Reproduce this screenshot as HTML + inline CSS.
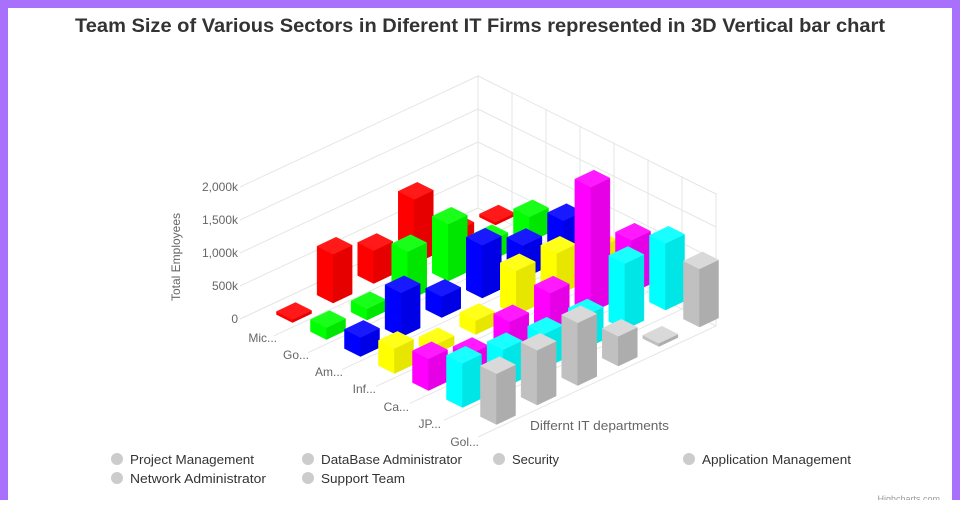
<!DOCTYPE html>
<html><head><meta charset="utf-8"><style>
html,body{margin:0;padding:0;background:#fff;}
body{width:960px;height:500px;overflow:hidden;}
svg text{font-family:"Liberation Sans",sans-serif;}
</style></head><body>
<svg id="s" width="960" height="500" xmlns="http://www.w3.org/2000/svg">
<rect x="0" y="0" width="960" height="500" fill="#a970fb"/>
<rect x="8" y="8" width="944" height="492" fill="#fff"/>
<text x="75" y="32" font-size="19" font-weight="bold" fill="#333" textLength="810" lengthAdjust="spacingAndGlyphs">Team Size of Various Sectors in Diferent IT Firms represented in 3D Vertical bar chart</text>
<g id="grid" stroke="#e6e6e6" stroke-width="1" fill="none"></g>
<g id="bars"></g>
<g font-size="12" fill="#666" text-anchor="end">
<text x="238" y="191">2,000k</text>
<text x="238" y="224">1,500k</text>
<text x="238" y="257">1,000k</text>
<text x="238" y="290">500k</text>
<text x="238" y="323">0</text>
</g>
<text transform="translate(180,257) rotate(-90)" font-size="12" fill="#666" text-anchor="middle">Total Employees</text>
<g font-size="12" fill="#666" text-anchor="end">
<text x="277" y="342">Mic...</text>
<text x="309" y="359">Go...</text>
<text x="343" y="376">Am...</text>
<text x="376" y="393">Inf...</text>
<text x="409" y="411">Ca...</text>
<text x="441" y="428">JP...</text>
<text x="479" y="446">Gol...</text>
</g>
<text x="530" y="430" font-size="13" fill="#666" textLength="139" lengthAdjust="spacingAndGlyphs">Differnt IT departments</text>
<g font-size="13" fill="#333">
<circle cx="117" cy="459" r="6" fill="#ccc"/><text x="130" y="464" textLength="124" lengthAdjust="spacingAndGlyphs">Project Management</text>
<circle cx="308" cy="459" r="6" fill="#ccc"/><text x="321" y="464" textLength="141" lengthAdjust="spacingAndGlyphs">DataBase Administrator</text>
<circle cx="499" cy="459" r="6" fill="#ccc"/><text x="512" y="464" textLength="47" lengthAdjust="spacingAndGlyphs">Security</text>
<circle cx="689" cy="459" r="6" fill="#ccc"/><text x="702" y="464" textLength="149" lengthAdjust="spacingAndGlyphs">Application Management</text>
<circle cx="117" cy="478" r="6" fill="#ccc"/><text x="130" y="483" textLength="136" lengthAdjust="spacingAndGlyphs">Network Administrator</text>
<circle cx="308" cy="478" r="6" fill="#ccc"/><text x="321" y="483" textLength="84" lengthAdjust="spacingAndGlyphs">Support Team</text>
</g>
<text x="940" y="502" font-size="9" fill="#999" text-anchor="end">Highcharts.com</text>
</svg>
<script>
(function(){
var NS="http://www.w3.org/2000/svg";
var grid=document.getElementById("grid"), bars=document.getElementById("bars");
function line(x1,y1,x2,y2){var l=document.createElementNS(NS,"line");l.setAttribute("x1",x1);l.setAttribute("y1",y1);l.setAttribute("x2",x2);l.setAttribute("y2",y2);grid.appendChild(l);}
var K=0.066;
// left wall horizontals
for(var v=0;v<=2000;v+=500){var d=v*K;line(240,319-d,478,208-d);line(478,208-d,716,326-d);}
// back wall verticals
for(var k=0;k<=7;k++){var x=478+34*k,y=208+16.857*k;line(x,y,x,y-133);}
line(478,208,478,75);
// floor lines
for(var k=0;k<=7;k++){line(240+34*k,319+16.857*k,478+34*k,208+16.857*k);}
var data=[
[30,740,500,980,200,30],
[180,170,740,860,300,380],
[290,670,320,800,500,580],
[380,140,210,670,640,420],
[480,250,450,590,1900,800],
[670,580,520,500,1000,1010],
[770,830,950,450,50,880]];
var cols=[[255,0,0],[0,255,0],[0,0,255],[255,255,0],[255,0,255],[0,255,255],[192,192,192]];
function br(c,f){return "rgb("+c.map(function(v){return Math.round(f>0?v+(255-v)*f+25*f:v*(1+f));}).map(function(v){return Math.max(0,Math.min(255,v));}).join(",")+")";}
var list=[];
for(var c=0;c<7;c++)for(var s=0;s<6;s++){
 list.push({c:c,s:s,x:294+34*c+40.6*s,y:314+17*c-19.5*s,h:Math.max(3,data[c][s]*K)});
}
list.sort(function(a,b){return a.y-b.y||a.x-b.x;});
var U=[8,4],V=[9.5,-4.5];
function poly(pts,fill){var p=document.createElementNS(NS,"polygon");p.setAttribute("points",pts.map(function(q){return q[0].toFixed(1)+","+q[1].toFixed(1);}).join(" "));p.setAttribute("fill",fill);p.setAttribute("stroke",fill);p.setAttribute("stroke-width","0.5");bars.appendChild(p);}
list.forEach(function(b){
 var col=cols[b.c];
 function P(u,v,z){return [b.x+u*U[0]+v*V[0], b.y+u*U[1]+v*V[1]-z];}
 var h=b.h;
 // front face (-V)
 poly([P(-1,-1,0),P(1,-1,0),P(1,-1,h),P(-1,-1,h)],"rgb("+col.join(",")+")");
 // side face (+U)
 poly([P(1,-1,0),P(1,1,0),P(1,1,h),P(1,-1,h)],"rgb("+col.map(function(v){return Math.round(v*0.9);}).join(",")+")");
 // top
 poly([P(-1,-1,h),P(1,-1,h),P(1,1,h),P(-1,1,h)],"rgb("+col.map(function(v){return Math.min(255,Math.round(v+25));}).join(",")+")");
});
})();
</script>
</body></html>
